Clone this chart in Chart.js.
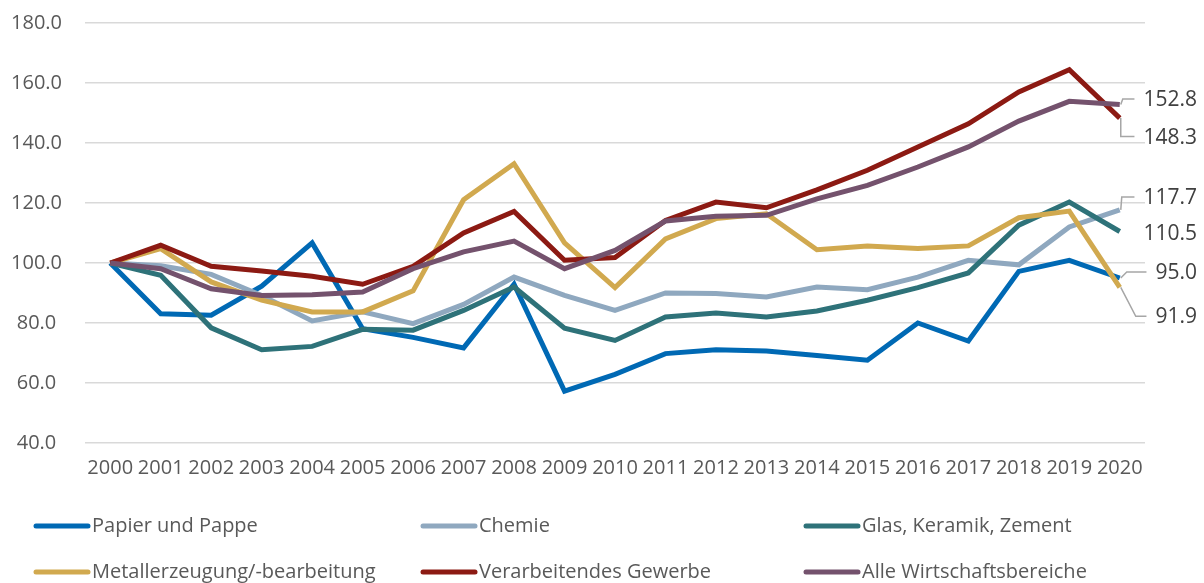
<!DOCTYPE html>
<html>
<head>
<meta charset="utf-8">
<script src="https://cdn.jsdelivr.net/npm/chart.js@4.4.1/dist/chart.umd.min.js"></script>
<style>
  html, body { margin: 0; padding: 0; background: #fff; }
  #wrap { width: 1204px; height: 583px; position: relative; }
</style>
</head>
<body>
<div id="wrap"><canvas id="chart" width="1204" height="583"></canvas></div>
<script>
// Index 2000 = 100
const years = ['2000', '2001', '2002', '2003', '2004', '2005', '2006', '2007', '2008', '2009', '2010',
  '2011', '2012', '2013', '2014', '2015', '2016', '2017', '2018', '2019', '2020'];

const papier = [100, 83.1, 82.6, 92.3, 106.7, 78.1, 75.2, 71.7, 92.9, 57.3, 62.9, 69.8, 71.1, 70.7, 69.2, 67.6, 80.0, 74.0, 97.2, 100.9, 95.0];
const chemie = [100, 99.1, 96.2, 89.2, 80.7, 83.7, 79.8, 86.2, 95.3, 89.2, 84.2, 90.0, 89.8, 88.7, 92.0, 91.1, 95.3, 100.9, 99.4, 112.0, 117.7];
const glas = [100, 95.9, 78.4, 71.1, 72.2, 77.9, 77.6, 84.2, 92.0, 78.3, 74.2, 82.0, 83.3, 82.0, 84.0, 87.6, 91.8, 96.7, 112.6, 120.3, 110.5];
const metall = [100, 104.8, 93.7, 87.6, 83.7, 83.7, 90.7, 121.1, 133.1, 106.7, 91.8, 108.0, 114.8, 116.4, 104.4, 105.7, 104.8, 105.7, 115.1, 117.3, 91.9];
const verarbeitend = [100, 105.9, 98.9, 97.3, 95.6, 92.9, 98.9, 110.0, 117.2, 100.9, 101.8, 114.2, 120.3, 118.4, 124.4, 130.9, 138.7, 146.4, 157.0, 164.4, 148.3];
const alle = [100, 98.1, 91.4, 89.2, 89.4, 90.3, 98.1, 103.7, 107.3, 98.1, 104.2, 114.0, 115.6, 115.9, 121.4, 125.9, 132.0, 138.7, 147.3, 153.9, 152.8];

const seriesNames = ['Papier und Pappe', 'Chemie', 'Glas, Keramik, Zement',
  'Metallerzeugung/-bearbeitung', 'Verarbeitendes Gewerbe', 'Alle Wirtschaftsbereiche'];
const seriesValues = [papier, chemie, glas, metall, verarbeitend, alle];
const seriesColors = ['#0069b4', '#8fa8bf', '#2e7279', '#d1a94f', '#8c1a13', '#74526d'];

const yTicks = [40, 60, 80, 100, 120, 140, 160, 180];

// end label placement: label offset from last point, bend of the leader line
const endLabels = [
  { dy: -6, bend: 7, leader: true },
  { dy: -13, bend: 2, leader: true },
  { dy: 1.5, bend: 0, leader: false },
  { dy: 29, bend: 16, leader: true },
  { dy: 18.5, bend: 1, leader: true },
  { dy: -5.5, bend: 3, leader: true }
];

Chart.defaults.font.family = "'Open Sans', sans-serif";
Chart.defaults.color = '#595959';

const endLabelPlugin = {
  id: 'endLabels',
  afterDatasetsDraw(chart) {
    const ctx = chart.ctx;
    const right = chart.chartArea.right + 52;
    ctx.save();
    ctx.font = "21px 'Open Sans', sans-serif";
    ctx.textBaseline = 'middle';
    ctx.textAlign = 'right';
    chart.data.datasets.forEach((ds, i) => {
      const meta = chart.getDatasetMeta(i);
      const pt = meta.data[meta.data.length - 1];
      const cfg = endLabels[i];
      const v = ds.data[ds.data.length - 1];
      const txt = v.toFixed(1);
      const ly = pt.y + cfg.dy;
      const w = ctx.measureText(txt).width;
      if (cfg.leader) {
        ctx.strokeStyle = '#a6a6a6';
        ctx.lineWidth = 1.5;
        ctx.beginPath();
        ctx.moveTo(pt.x + 1, pt.y);
        ctx.lineTo(pt.x + cfg.bend, ly);
        ctx.lineTo(right - w - 9, ly);
        ctx.stroke();
      }
      ctx.fillStyle = '#404040';
      ctx.fillText(txt, right, ly + 1);
    });
    ctx.restore();
  }
};

const legendPlugin = {
  id: 'bottomLegend',
  afterDraw(chart) {
    const ctx = chart.ctx;
    const cols = [34, 421, 804];
    const rows = [526, 572];
    ctx.save();
    ctx.font = "20px 'Open Sans', sans-serif";
    ctx.textBaseline = 'middle';
    ctx.textAlign = 'left';
    seriesNames.forEach((name, i) => {
      const x = cols[i % 3];
      const y = rows[Math.floor(i / 3)];
      ctx.strokeStyle = seriesColors[i];
      ctx.lineWidth = 5;
      ctx.lineCap = 'round';
      ctx.beginPath();
      ctx.moveTo(x + 2, y);
      ctx.lineTo(x + 54, y);
      ctx.stroke();
      ctx.fillStyle = '#595959';
      ctx.fillText(name, x + 58, y);
    });
    ctx.restore();
  }
};

new Chart(document.getElementById('chart'), {
  type: 'line',
  data: {
    labels: years,
    datasets: seriesValues.map((vals, i) => ({
      label: seriesNames[i],
      data: vals,
      borderColor: seriesColors[i],
      backgroundColor: seriesColors[i],
      borderWidth: 5,
      pointRadius: 0,
      tension: 0,
      order: seriesValues.length - i
    }))
  },
  options: {
    responsive: false,
    animation: false,
    layout: { padding: { top: 23, right: 59, bottom: 95, left: 0 } },
    plugins: {
      legend: { display: false },
      tooltip: { enabled: false }
    },
    scales: {
      x: {
        offset: true,
        grid: { display: false, drawTicks: false },
        border: { display: false },
        ticks: {
          autoSkip: false,
          maxRotation: 0,
          minRotation: 0,
          padding: 13,
          color: '#595959',
          font: { size: 20 }
        },
        afterFit(scale) { scale.height = 45; }
      },
      y: {
        min: yTicks[0],
        max: yTicks[yTicks.length - 1],
        afterBuildTicks(scale) { scale.ticks = yTicks.map(v => ({ value: v })); },
        grid: { color: '#d9d9d9', lineWidth: 1.5, drawTicks: false },
        border: { display: false },
        ticks: {
          crossAlign: 'center',
          padding: 23,
          color: '#595959',
          font: { size: 20 },
          callback: v => Number(v).toFixed(1)
        },
        afterFit(scale) {
          scale.width = 85;
          scale.paddingTop = 0;
          scale.paddingBottom = 0;
        }
      }
    }
  },
  plugins: [endLabelPlugin, legendPlugin]
});
</script>
</body>
</html>
